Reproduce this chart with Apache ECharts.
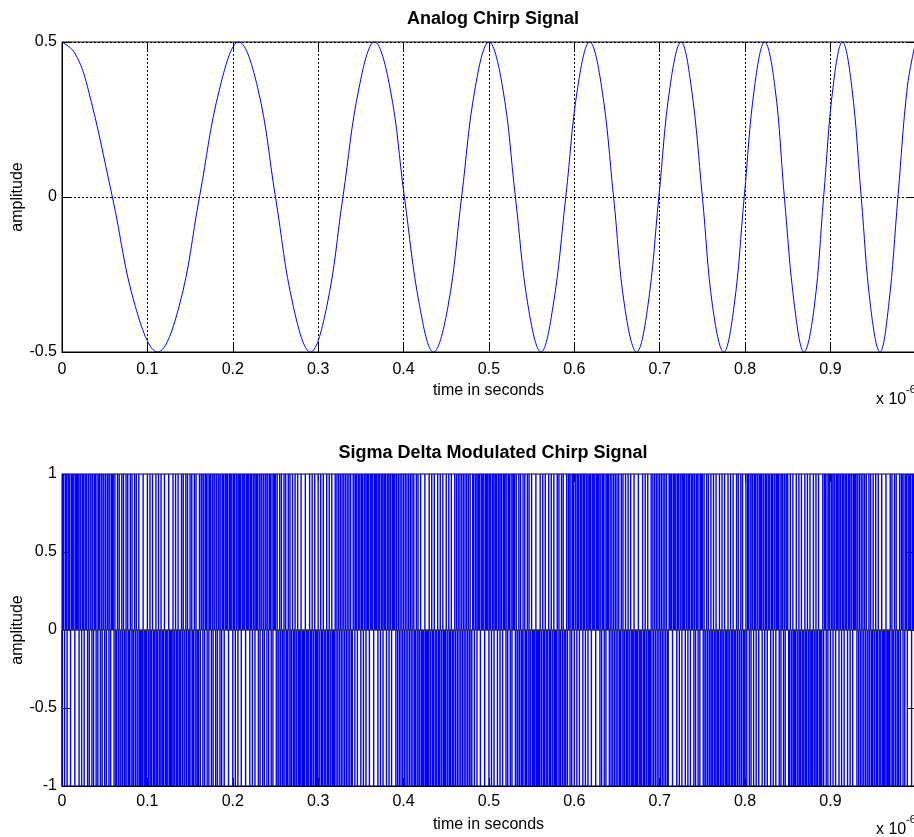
<!DOCTYPE html>
<html>
<head>
<meta charset="utf-8">
<title>Chirp signal</title>
<script src="https://cdn.jsdelivr.net/npm/echarts@6/dist/echarts.min.js"></script>
<style>
  html, body { margin: 0; padding: 0; background: #fff; }
  #chart { width: 914px; height: 837px; }
</style>
</head>
<body>
<div id="chart"></div>
<script>
// analog chirp (time in 1e-6 s): peaks, troughs,
// zero crossings and the +-0.354 points in between
const chirpTime = [
  0, 0.015, 0.030, 0.059, 0.086, 0.112, 0.137, 0.161, 0.185,
  0.207, 0.229, 0.250, 0.271, 0.291, 0.310, 0.329, 0.348,
  0.366, 0.384, 0.401, 0.419, 0.435, 0.452, 0.468, 0.484,
  0.500, 0.516, 0.531, 0.546, 0.561, 0.575, 0.590, 0.604,
  0.618, 0.632, 0.646, 0.659, 0.673, 0.686, 0.699, 0.712,
  0.725, 0.737, 0.750, 0.762, 0.775, 0.787, 0.799, 0.811,
  0.823, 0.835, 0.846, 0.858, 0.869, 0.881, 0.892, 0.903,
  0.914, 0.925, 0.936, 0.947, 0.958, 0.968, 0.979, 0.990,
  0.999
]
const chirpAmp = [
  0.5, 0.464, 0.354, 0, -0.354, -0.5, -0.354, 0, 0.354,
  0.5, 0.354, 0, -0.354, -0.5, -0.354, 0, 0.354,
  0.5, 0.354, 0, -0.354, -0.5, -0.354, 0, 0.354,
  0.5, 0.354, 0, -0.354, -0.5, -0.354, 0, 0.354,
  0.5, 0.354, 0, -0.354, -0.5, -0.354, 0, 0.354,
  0.5, 0.354, 0, -0.354, -0.5, -0.354, 0, 0.354,
  0.5, 0.354, 0, -0.354, -0.5, -0.354, 0, 0.354,
  0.5, 0.354, 0, -0.354, -0.5, -0.354, 0, 0.354,
  0.49
]

// sigma delta output, one char per sample: 1 -> +1, 0 -> -1 (1000 samples, 1 ns apart)
const sdBits = [
  '0110110111 0111101111 0110110111 0101101011 0101101011 0101101011 1010010100 1010010100 1010010100 1000010000',
  '1001001000 1001001000 1000010000 1001001000 1010010100 1010010100 0101101011 0101101011 0101101011 0111101111',
  '0110110111 0111101111 0110110111 0101101011 0101101011 1010010100 1010010100 1001001000 1000010000 1001001000',
  '1001001000 1001001000 1010101010 1010101010 0110110111 0110110111 0111101111 0110110111 0110110111 1010101010',
  '1010101010 1010010100 1000010000 1001001000 1001001000 1001001000 1010101010 1010101010 0110110111 0111101111',
  '0110110111 0110110111 0101101011 1010010100 1010010100 1000010000 1001001000 1001001000 1010010100 0101101011',
  '0110110111 0110110111 0111101111 0101101011 1010101010 1010010100 1001001000 1000010000 1001001000 1010101010',
  '1010101010 0111101111 0110110111 0110110111 0101101011 1010010100 1001001000 1001001000 1001001000 1010010100',
  '0101101011 0110110111 0110110111 0110110111 0101101011 1001001000 1001001000 1001001000 1001001000 0101101011',
  '0110110111 0110110111 0110110111 1010101010 1010010100 1001001000 1000010000 1010010100 0101101011 0111101111'
].join('').replace(/ /g, '')
const sdStep = 0.001

const xTickLabels = ['0', '0.1', '0.2', '0.3', '0.4', '0.5', '0.6', '0.7', '0.8', '0.9']
const topYTickLabels = ['-0.5', '0', '0.5']
const bottomYTickLabels = ['-1', '-0.5', '0', '0.5', '1']

const font = "'Liberation Sans', Arial, Helvetica, sans-serif"

function tickFormatter(labels, min, step) {
  return function (v) {
    const i = Math.round((v - min) / step)
    if (Math.abs(v - (min + i * step)) > 1e-6) return ''
    return labels[i] || ''
  }
}

function mainX(gridIndex, grid, margin) {
  return {
    type: 'value',
    gridIndex: gridIndex,
    min: 0,
    max: 0.999,
    interval: 0.1,
    name: 'time in seconds',
    nameLocation: 'middle',
    nameGap: 31,
    nameMoveOverlap: false,
    nameTextStyle: { color: '#000', fontFamily: font, fontSize: 16 },
    axisLine: { show: true, onZero: false, lineStyle: { color: '#000', width: 1 } },
    axisTick: { show: true, inside: true, length: 8, lineStyle: { color: '#000' } },
    axisLabel: {
      color: '#000', fontFamily: font, fontSize: 16, margin: margin,
      formatter: tickFormatter(xTickLabels, 0, 0.1)
    },
    splitLine: {
      show: grid,
      lineStyle: { color: '#000', width: 1, type: [2, 2] }
    }
  }
}

function mirrorX(gridIndex) {
  return {
    type: 'value',
    gridIndex: gridIndex,
    position: 'top',
    min: 0,
    max: 0.999,
    interval: 0.1,
    axisLine: { show: false, onZero: false },
    axisTick: { show: true, inside: true, length: 8, lineStyle: { color: '#000' } },
    axisLabel: { show: false },
    splitLine: { show: false }
  }
}

function mainY(gridIndex, min, max, labels, grid) {
  return {
    type: 'value',
    gridIndex: gridIndex,
    min: min,
    max: max,
    interval: 0.5,
    name: 'amplitude',
    nameLocation: 'middle',
    nameGap: 36,
    nameMoveOverlap: false,
    nameTextStyle: { color: '#000', fontFamily: font, fontSize: 16 },
    axisLine: { show: true, onZero: false, lineStyle: { color: '#000', width: 1 } },
    axisTick: { show: true, inside: true, length: 8, lineStyle: { color: '#000' } },
    axisLabel: {
      color: '#000', fontFamily: font, fontSize: 16, margin: 5,
      formatter: tickFormatter(labels, min, 0.5)
    },
    splitLine: {
      show: grid,
      lineStyle: { color: '#000', width: 1, type: [2, 2] }
    }
  }
}

function mirrorY(gridIndex, min, max) {
  return {
    type: 'value',
    gridIndex: gridIndex,
    position: 'right',
    min: min,
    max: max,
    interval: 0.5,
    axisLine: { show: false, onZero: false },
    axisTick: { show: true, inside: true, length: 8, lineStyle: { color: '#000' } },
    axisLabel: { show: false },
    splitLine: { show: false }
  }
}

const chart = echarts.init(document.getElementById('chart'), null, { renderer: 'canvas' })
chart.setOption({
  animation: false,
  backgroundColor: '#fff',
  title: [
    {
      text: 'Analog Chirp Signal',
      left: 488, top: 5, textAlign: 'center',
      textStyle: { color: '#000', fontFamily: font, fontSize: 18, fontWeight: 'bold' }
    },
    {
      text: 'Sigma Delta Modulated Chirp Signal',
      left: 488, top: 439, textAlign: 'center',
      textStyle: { color: '#000', fontFamily: font, fontSize: 18, fontWeight: 'bold' }
    }
  ],
  grid: [
    {
      left: 62, top: 42, width: 853, height: 310,
      containLabel: false, outerBoundsMode: 'none',
      show: true, borderColor: '#000', borderWidth: 1
    },
    {
      left: 62, top: 474, width: 853, height: 312,
      containLabel: false, outerBoundsMode: 'none',
      show: true, borderColor: '#000', borderWidth: 1
    }
  ],
  xAxis: [mainX(0, true, 10), mirrorX(0), mainX(1, false, 8), mirrorX(1)],
  yAxis: [
    mainY(0, -0.5, 0.5, topYTickLabels, true), mirrorY(0, -0.5, 0.5),
    mainY(1, -1, 1, bottomYTickLabels, false), mirrorY(1, -1, 1)
  ],
  graphic: [
    { type: 'text', left: 876, top: 392, style: { text: 'x 10', fontFamily: font, fontSize: 16, fill: '#000' } },
    { type: 'text', left: 906, top: 384, style: { text: '-6', fontFamily: font, fontSize: 11, fill: '#000' } },
    { type: 'text', left: 876, top: 822, style: { text: 'x 10', fontFamily: font, fontSize: 16, fill: '#000' } },
    { type: 'text', left: 906, top: 814, style: { text: '-6', fontFamily: font, fontSize: 11, fill: '#000' } }
  ],
  series: [
    {
      name: 'analog',
      type: 'line',
      xAxisIndex: 0,
      yAxisIndex: 0,
      smooth: 0.4,
      showSymbol: false,
      symbol: 'none',
      lineStyle: { color: '#0000ff', width: 1 },
      data: chirpTime.map((t, i) => [t, chirpAmp[i]])
    },
    {
      name: 'sigma delta',
      type: 'bar',
      xAxisIndex: 2,
      yAxisIndex: 2,
      barWidth: 1.4,
      itemStyle: { color: '#0000ff' },
      data: sdBits.split('').map((b, i) => [+(i * sdStep).toFixed(3), b === '1' ? 1 : -1]),
      markLine: {
        silent: true,
        symbol: ['none', 'none'],
        label: { show: false },
        lineStyle: { color: '#333', width: 1.5, type: 'solid' },
        data: [{ yAxis: 0 }]
      }
    }
  ]
})
</script>
</body>
</html>
